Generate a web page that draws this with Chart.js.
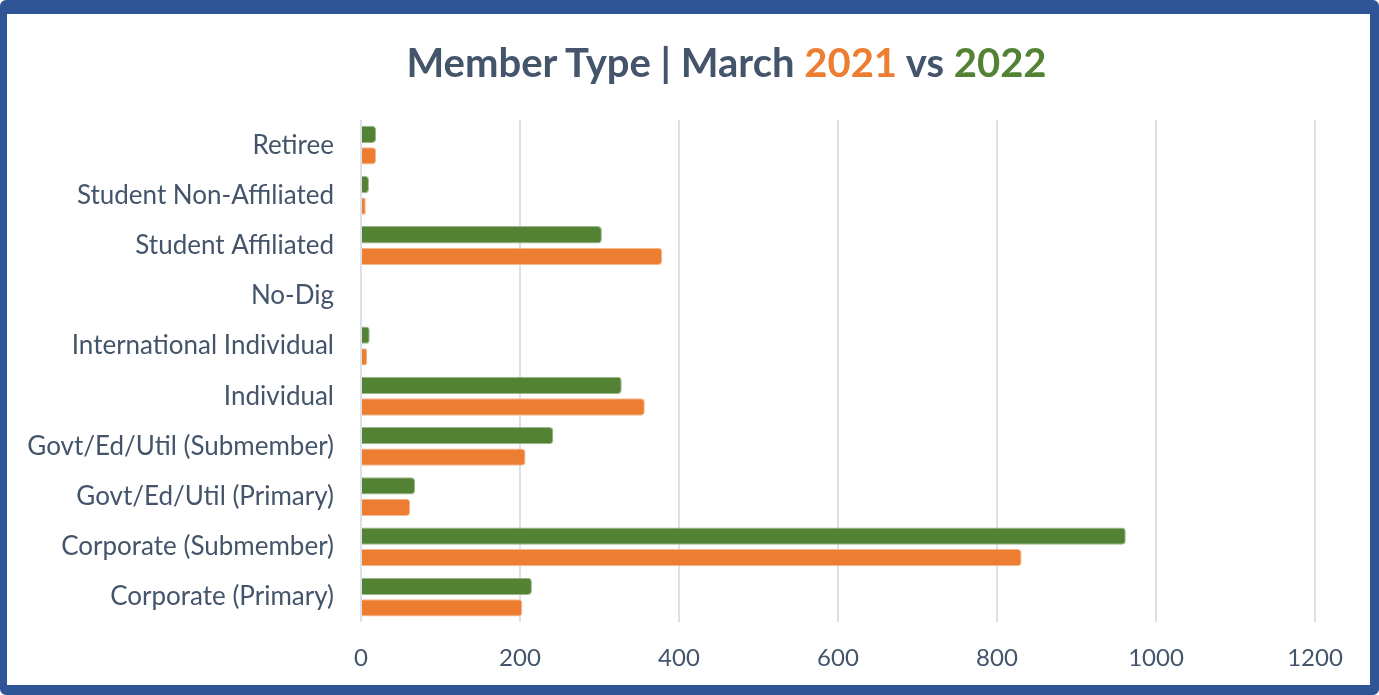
<!DOCTYPE html>
<html>
<head>
<meta charset="utf-8">
<script src="https://cdn.jsdelivr.net/npm/chart.js@4/dist/chart.umd.min.js"></script>
<style>
  html, body { margin: 0; padding: 0; background: #fff; }
  .frame {
    position: absolute; left: 0; top: 0;
    width: 1379px; height: 695px; box-sizing: border-box;
    border-style: solid; border-color: #2F5597;
    border-width: 14px 9px 10px 7px;
    border-radius: 6px;
  }
  .title {
    position: absolute; left: 37px; width: 1379px; top: 38px;
    text-align: center; font-family: Lato, sans-serif; font-weight: bold;
    font-size: 40px; color: #44546A;
  }
  .y21 { color: #ED7D31; }
  .y22 { color: #548235; }
  #wrap { position: absolute; left: 0; top: 0; width: 1379px; height: 695px; }
</style>
</head>
<body>
<div id="wrap"><canvas id="memberChart"></canvas></div>
<div class="frame"></div>
<div class="title">Member Type | March <span class="y21">2021</span> vs <span class="y22">2022</span></div>
<script>
// categories, top to bottom as shown
const categories = [
  'Retiree',
  'Student Non-Affiliated',
  'Student Affiliated',
  'No-Dig',
  'International Individual',
  'Individual',
  'Govt/Ed/Util (Submember)',
  'Govt/Ed/Util (Primary)',
  'Corporate (Submember)',
  'Corporate (Primary)'
]
const values2022 = [19, 10, 303, 0, 11, 328, 242, 68, 962, 215]
const values2021 = [19, 6, 379, 0, 8, 357, 207, 62, 831, 203]
const xTicks = [0, 200, 400, 600, 800, 1000, 1200]

const ctx = document.getElementById('memberChart')

new Chart(ctx, {
  type: 'bar',
  data: {
    labels: categories,
    datasets: [{
      label: '2022',
      data: values2022,
      backgroundColor: '#548235',
      borderColor: '#9BB88A',
      borderWidth: 1,
      borderRadius: 4,
      borderSkipped: 'start'
    }, {
      label: '2021',
      data: values2021,
      backgroundColor: '#ED7D31',
      borderColor: '#F6B88E',
      borderWidth: 1,
      borderRadius: 4,
      borderSkipped: 'start'
    }]
  },
  options: {
    indexAxis: 'y',
    responsive: true,
    maintainAspectRatio: false,
    animation: false,
    layout: { padding: { left: 0, right: 64, top: 120, bottom: 0 } },
    categoryPercentage: 0.86,
    barPercentage: 0.8,
    plugins: {
      legend: { display: false },
      title: { display: false },
      tooltip: { enabled: false }
    },
    scales: {
      x: {
        min: 0,
        max: 1200,
        afterBuildTicks: (scale) => { scale.ticks = xTicks.map(v => ({ value: v })) },
        grid: { color: '#DCE0EA', lineWidth: 2, drawTicks: false },
        border: { display: false },
        ticks: {
          padding: 22,
          color: '#44546A',
          font: { family: 'Lato', size: 24 },
          callback: (v) => String(v)
        }
      },
      y: {
        grid: { display: false, drawTicks: false },
        border: { display: false },
        afterFit: (scale) => { scale.width = 361 },
        ticks: {
          padding: 27,
          color: '#44546A',
          font: { family: 'Lato', size: 26 }
        }
      }
    }
  }
})
</script>
</body>
</html>
